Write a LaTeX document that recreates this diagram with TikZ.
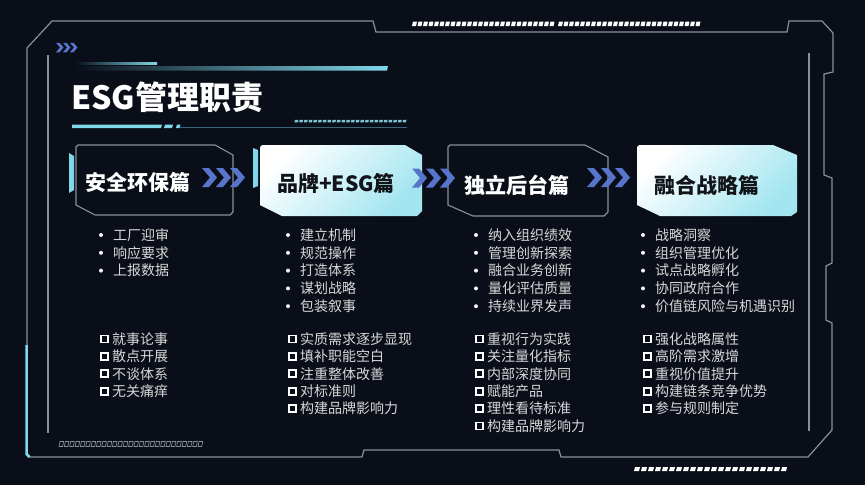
\documentclass[tikz,border=0pt]{standalone}
\usepackage{fontspec}
\setmainfont{Noto Sans CJK SC}
\definecolor{bg}{HTML}{090E18}
\definecolor{frame}{HTML}{8A8F99}
\definecolor{cyanA}{HTML}{7FD8EA}
\definecolor{cyanB}{HTML}{A2E5F0}
\definecolor{chev}{HTML}{5875CC}
\definecolor{txt}{HTML}{D8D8D8}
\definecolor{darktxt}{HTML}{111418}
\definecolor{tealline}{HTML}{3A6676}
\definecolor{dashc}{HTML}{7CC6D6}
\newcommand\chevs[3]{\foreach \k in {0,1,2}{\fill[chev] ({#1+#3*14*\k},{#2-#3*9.5}) -- ++({#3*7},0) -- ++({#3*8},{#3*9.5}) -- ++({-#3*8},{#3*9.5}) -- ++({-#3*7},0) -- ++({#3*8},{-#3*9.5}) -- cycle;}}
\newcommand\bulcol[3]{\foreach [count=\i] \t in {#3}{\fill[white!92!gray] ({#2-12},{235+17.8*(\i-1)}) circle (2pt); \node[item] (b#1-\i) at (#2,{240.3+17.8*(\i-1)}) {\t};}}
\newcommand\chkcol[3]{\foreach [count=\i] \t in {#3}{\draw[cbox] ({#2-11},{339-3.5+17.4*(\i-1)}) rectangle ++(7,7); \node[item] (c#1-\i) at (#2,{344.3+17.4*(\i-1)}) {\t};}}
\begin{document}
\begin{tikzpicture}[x=1pt,y=-1pt,
  frameline/.style={draw=frame,line width=1.2pt,line join=miter},
  stagebox/.style={draw=frame,line width=1.1pt},
  stagefill/.style={top color=white,bottom color=cyanB,shading angle=45},
  boxlabel/.style={font=\bfseries\fontsize{21}{24}\selectfont,inner sep=0pt},
  item/.style={font=\fontsize{14}{17}\selectfont,text=txt,anchor=base west,inner sep=0pt},
  cbox/.style={draw=white,line width=1.8pt},
  tab/.style={fill=cyanA}]
% background
\fill[bg] (0,0) rectangle (865,485);
\useasboundingbox (0,0) rectangle (865,485);
% outer frame
\draw[frameline] (27,48) -- (52,21) -- (373,21) -- (376,32) -- (787,32) -- (789,21) -- (822,21) -- (833,33) -- (833,72) -- (824,74) -- (824,175) -- (832,178) -- (832,263) -- (826,266) -- (826,320) -- (832,323) -- (832,430) -- (808,457) -- (561,457) -- (559,450) -- (364,450) -- (362,457) -- (30,457) -- (27,454) -- cycle;
\draw[frameline] (48,55) -- (48,433);
\draw[frameline] (809,53) -- (809,431);
\draw[cyanA,line width=2.5pt] (26.5,345) -- (26.5,454) -- (29.5,457);
% top white dashes
\foreach \i in {0,...,25}{\fill[white] ({413+5.5*\i},21.5) -- ++(4,0) -- ++(-1,4.5) -- ++(-4,0) -- cycle;}
\foreach \i in {0,...,25}{\fill[white] ({559+5.5*\i},21.5) -- ++(4,0) -- ++(-1,4.5) -- ++(-4,0) -- cycle;}
% bottom right white dashes
\foreach \i in {0,...,21}{\fill[white] ({635+7*\i},467) -- ++(5,0) -- ++(-1,4) -- ++(-5,0) -- cycle;}
% bottom left outlined dashes
\foreach \i in {0,...,26}{\draw[frame,line width=0.6pt] ({60+5.35*\i},441.5) -- ++(3.6,0) -- ++(-1,5) -- ++(-3.6,0) -- cycle;}
% title decorations
\chevs{56}{47.5}{0.5}
\shade[left color=bg,right color=cyanA] (75,62) rectangle (157,64.5);
\shade[left color=bg,right color=cyanA] (75,66) -- (388,66) -- (387,70.5) -- (75,70.5) -- cycle;
\node[font=\bfseries\fontsize{32}{36}\selectfont,text=white,anchor=base west,inner sep=0pt] (title) at (71,109) {ESG管理职责};
\fill[cyanA] (72,124.5) -- (162,124.5) -- (161,128) -- (72,128) -- cycle;
\fill[cyanA] (165,124.5) -- (173,124.5) -- (172,128) -- (164,128) -- cycle;
\fill[cyanA] (177,124.5) -- (180.5,124.5) -- (179.5,128) -- (176,128) -- cycle;
\draw[tealline,line width=0.9pt] (180,127.3) -- (407,127.3);
\foreach \i in {0,...,23}{\fill[dashc] ({295+4.7*\i},119.8) -- ++(3.4,0) -- ++(-0.6,2.6) -- ++(-3.4,0) -- cycle;}
% stage boxes
\fill[tab] (69,153) -- (74,156) -- (74,190) -- (69,193) -- cycle;
\draw[stagebox] (78,145) -- (215,145) -- (233,155) -- (233,212) -- (230,215) -- (95,215) -- (76,205) -- (76,147) -- cycle;
\node[boxlabel,text=white] (s1) at (138,182) {安全环保篇};
\fill[tab] (253,148) -- (258,150) -- (258,186) -- (253,188) -- cycle;
\shade[stagefill] (262,145) -- (405,145) -- (422,155) -- (422,211) -- (417,216) -- (282,216) -- (260,205) -- (260,147) -- cycle;
\node[boxlabel,text=darktxt] (s2) at (336,183) {品牌+ESG篇};
\draw[stagebox] (450,145) -- (585,145) -- (608,157) -- (608,212) -- (604,216) -- (473,216) -- (448,205) -- (448,147) -- cycle;
\node[boxlabel,text=white] (s3) at (517,185) {独立后台篇};
\shade[stagefill] (639,145) -- (773,145) -- (797,155) -- (797,212) -- (791,216) -- (660,216) -- (637,205) -- (637,147) -- cycle;
\node[boxlabel,text=darktxt] (s4) at (707,185) {融合战略篇};
% chevrons between stages
\chevs{202}{177.5}{1}
\chevs{412}{178}{1}
\chevs{587}{177.5}{1}
% bullet lists
\bulcol{1}{113}{工厂迎审,响应要求,上报数据}
\bulcol{2}{300}{建立机制,规范操作,打造体系,谋划战略,包装叙事}
\bulcol{3}{488}{纳入组织绩效,管理创新探索,融合业务创新,量化评估质量,持续业界发声}
\bulcol{4}{655}{战略洞察,组织管理优化,试点战略孵化,协同政府合作,价值链风险与机遇识别}
% check lists
\chkcol{1}{112}{就事论事,散点开展,不谈体系,无关痛痒}
\chkcol{2}{300}{实质需求逐步显现,填补职能空白,注重整体改善,对标准则,构建品牌影响力}
\chkcol{3}{487}{重视行为实践,关注量化指标,内部深度协同,赋能产品,理性看待标准,构建品牌影响力}
\chkcol{4}{655}{强化战略属性,高阶需求激增,重视价值提升,构建链条竞争优势,参与规则制定}
\end{tikzpicture}
\end{document}
